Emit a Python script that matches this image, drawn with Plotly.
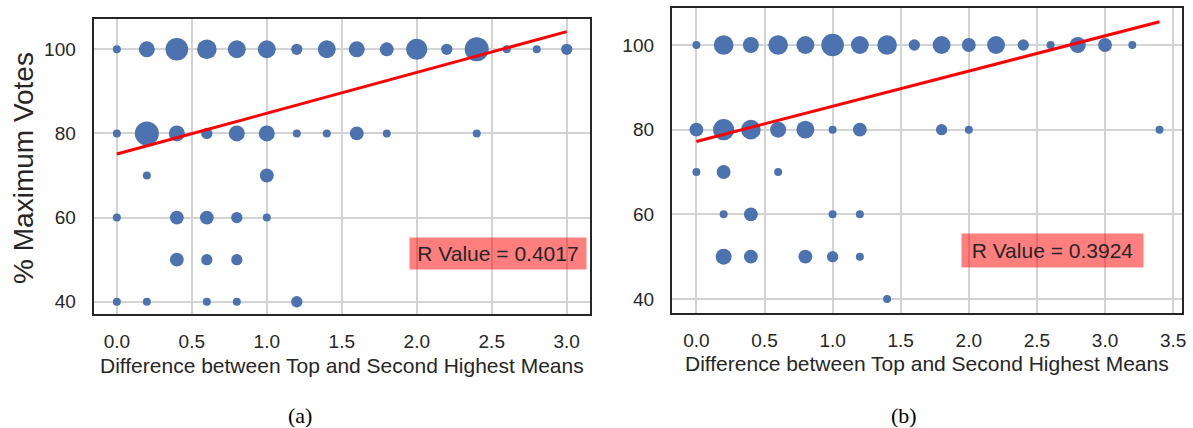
import numpy as np
import plotly.graph_objects as go

# ---------------- data: panel (a) ----------------
a_diff = [0, 0.2, 0.4, 0.6, 0.8, 1.0, 1.2, 1.4, 1.6, 1.8, 2.0, 2.2, 2.4, 2.6, 2.8, 3.0,
          0, 0.2, 0.4, 0.6, 0.8, 1.0, 1.2, 1.4, 1.6, 1.8, 2.4,
          0.2, 1.0,
          0.0, 0.4, 0.6, 0.8, 1.0,
          0.4, 0.6, 0.8,
          0.0, 0.2, 0.6, 0.8, 1.2]
a_votes = [100] * 16 + [80] * 11 + [70] * 2 + [60] * 5 + [50] * 3 + [40] * 5
a_count = [1, 4, 8, 6, 5, 5, 2, 5, 4, 3, 7, 2, 9, 1, 1, 2,
           1, 9, 4, 2, 4, 4, 1, 1, 3, 1, 1,
           1, 3,
           1, 3, 3, 2, 1,
           3, 2, 2,
           1, 1, 1, 1, 2]
a_fit_x = [0.0, 3.0]
a_fit_intercept = 75.1
a_fit_slope = 9.7
a_r = "0.4017"

# ---------------- data: panel (b) ----------------
b_diff = [0, 0.2, 0.4, 0.6, 0.8, 1.0, 1.2, 1.4, 1.6, 1.8, 2.0, 2.2, 2.4, 2.6, 2.8, 3.0, 3.2,
          0, 0.2, 0.4, 0.6, 0.8, 1.0, 1.2, 1.8, 2.0, 3.4,
          0, 0.2, 0.6,
          0.2, 0.4, 1.0, 1.2,
          0.2, 0.4, 0.8, 1.0, 1.2,
          1.4]
b_votes = [100] * 17 + [80] * 10 + [70] * 3 + [60] * 4 + [50] * 5 + [40] * 1
b_count = [1, 6, 4, 6, 5, 8, 5, 6, 2, 5, 3, 5, 2, 1, 4, 3, 1,
           3, 7, 6, 4, 5, 1, 3, 2, 1, 1,
           1, 3, 1,
           1, 3, 1, 1,
           4, 3, 3, 2, 1,
           1]
b_fit_x = [0.0, 3.4]
b_fit_intercept = 77.2
b_fit_slope = 8.32
b_r = "0.3924"

x_ticks_a = [0.0, 0.5, 1.0, 1.5, 2.0, 2.5, 3.0]
x_ticks_b = [0.0, 0.5, 1.0, 1.5, 2.0, 2.5, 3.0, 3.5]
y_ticks = [40, 60, 80, 100]

x_title = "Difference between Top and Second Highest Means"
y_title = "% Maximum Votes"

# ---------------- styling ----------------
W, H = 1193, 428
BLUE = "#4C72B0"
DARK = "#262626"
GRID = "#d3d3d3"
FONT = "Liberation Sans, Arial, sans-serif"
SERIF = "Liberation Serif, Times New Roman, serif"


def sizes(c):
    return (8.0 * np.sqrt(np.asarray(c, dtype=float))).tolist()


fig = go.Figure()

fig.add_trace(go.Scatter(x=a_diff, y=a_votes, mode="markers",
                         marker=dict(color=BLUE, size=sizes(a_count), opacity=1, line=dict(width=0)),
                         xaxis="x", yaxis="y", showlegend=False))
fig.add_trace(go.Scatter(x=a_fit_x, y=[a_fit_intercept + a_fit_slope * v for v in a_fit_x],
                         mode="lines", line=dict(color="#ff0000", width=3),
                         xaxis="x", yaxis="y", showlegend=False))

fig.add_trace(go.Scatter(x=b_diff, y=b_votes, mode="markers",
                         marker=dict(color=BLUE, size=sizes(b_count), opacity=1, line=dict(width=0)),
                         xaxis="x2", yaxis="y2", showlegend=False))
fig.add_trace(go.Scatter(x=b_fit_x, y=[b_fit_intercept + b_fit_slope * v for v in b_fit_x],
                         mode="lines", line=dict(color="#ff0000", width=3),
                         xaxis="x2", yaxis="y2", showlegend=False))

common = dict(showgrid=True, gridcolor=GRID, gridwidth=2, zeroline=False,
              showline=True, linecolor=DARK, linewidth=2, mirror=True,
              ticks="outside", tickcolor="rgba(0,0,0,0)",
              tickfont=dict(size=19, color=DARK, family=FONT))

fig.update_layout(
    width=W, height=H,
    margin=dict(l=0, r=0, t=0, b=0),
    paper_bgcolor="white", plot_bgcolor="white",
    font=dict(family=FONT, color=DARK),
    xaxis=dict(domain=[94 / W, 592 / W], range=[-0.155, 3.152], tickvals=x_ticks_a,
               tickformat=".1f", ticklen=9, anchor="y", **common),
    yaxis=dict(domain=[1 - 314 / H, 1 - 19 / H], range=[37.08, 107.2], tickvals=y_ticks,
               ticklen=12, anchor="x", **common),
    xaxis2=dict(domain=[674.7 / W, 1186.7 / W], range=[-0.18, 3.563], tickvals=x_ticks_b,
                tickformat=".1f", ticklen=9, anchor="y2", **common),
    yaxis2=dict(domain=[1 - 312.7 / H, 1 - 8.3 / H], range=[36.76, 108.67], tickvals=y_ticks,
                ticklen=12, anchor="x2", **common),
)

ann = []
# R value boxes
ann.append(dict(x=500.5 / W, y=1 - 253.8 / H, xref="paper", yref="paper",
                text="R Value = " + a_r, showarrow=False, xanchor="center", yanchor="middle",
                font=dict(size=21, color=DARK, family=FONT),
                bgcolor="rgba(255,0,0,0.5)", borderpad=2, width=172, height=27))
ann.append(dict(x=1056.7 / W, y=1 - 250.8 / H, xref="paper", yref="paper",
                text="R Value = " + b_r, showarrow=False, xanchor="center", yanchor="middle",
                font=dict(size=21, color=DARK, family=FONT),
                bgcolor="rgba(255,0,0,0.5)", borderpad=2, width=177, height=29))
# axis titles
ann.append(dict(x=343 / W, y=1 - 365 / H, xref="paper", yref="paper", text=x_title,
                showarrow=False, xanchor="center", yanchor="middle",
                font=dict(size=21, color=DARK, family=FONT)))
ann.append(dict(x=931 / W, y=1 - 363 / H, xref="paper", yref="paper", text=x_title,
                showarrow=False, xanchor="center", yanchor="middle",
                font=dict(size=21, color=DARK, family=FONT)))
ann.append(dict(x=23 / W, y=1 - 168 / H, xref="paper", yref="paper", text=y_title,
                showarrow=False, xanchor="center", yanchor="middle", textangle=-90,
                font=dict(size=28, color=DARK, family=FONT)))
# captions
ann.append(dict(x=301.5 / W, y=1 - 415 / H, xref="paper", yref="paper", text="(a)",
                showarrow=False, xanchor="center", yanchor="middle",
                font=dict(size=22, color="black", family=SERIF)))
ann.append(dict(x=908 / W, y=1 - 415 / H, xref="paper", yref="paper", text="(b)",
                showarrow=False, xanchor="center", yanchor="middle",
                font=dict(size=22, color="black", family=SERIF)))
fig.update_layout(annotations=ann)

fig.write_html("out.html")
